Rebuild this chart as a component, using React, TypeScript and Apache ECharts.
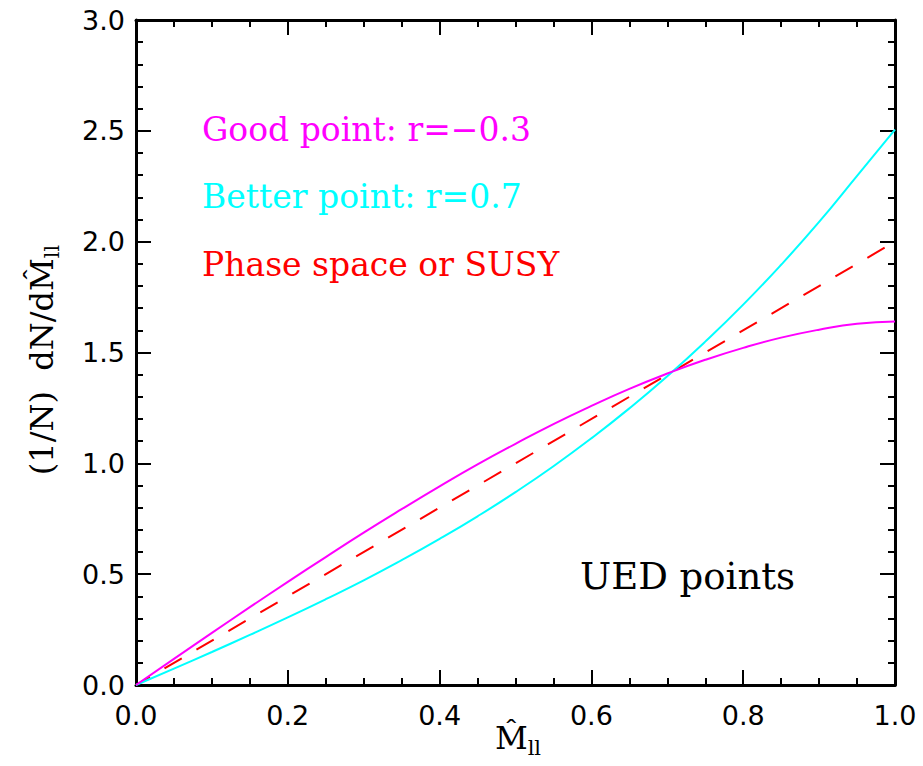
import React, { useEffect, useRef } from "react";
import * as echarts from "echarts";

const xValues = [0, 0.05, 0.1, 0.15, 0.2, 0.25, 0.3, 0.35, 0.4, 0.45, 0.5, 0.55, 0.6, 0.65, 0.7, 0.75, 0.8, 0.85, 0.9, 0.95, 1.0];
const goodPoint = [0, 0.118, 0.235, 0.351, 0.465, 0.577, 0.687, 0.793, 0.896, 0.995, 1.088, 1.177, 1.259, 1.336, 1.405, 1.467, 1.521, 1.567, 1.603, 1.630, 1.640];
const betterPoint = [0, 0.074, 0.149, 0.226, 0.305, 0.387, 0.472, 0.563, 0.659, 0.761, 0.870, 0.987, 1.113, 1.248, 1.393, 1.549, 1.716, 1.896, 2.089, 2.297, 2.505];
const phaseX = [0, 0.5, 1.0];
const phaseSpace = [0, 1.0, 2.0];
const legendLabels = ["Good point: r=\u22120.3", "Better point: r=0.7", "Phase space or SUSY"];
const annotation = "UED points";

const serif = "DejaVu Serif";
const sans = "DejaVu Sans";

export default function App() {
  const ref = useRef<HTMLDivElement>(null);
  useEffect(() => {
    if (!ref.current) return;
    const chart = echarts.init(ref.current, null, { renderer: "svg" });
    const axisLine = { show: true, onZero: false, lineStyle: { color: "#000", width: 3 } };
    const majorTick = { show: true, inside: true, length: 15, lineStyle: { color: "#000", width: 2 } };
    const minorTick = { show: true, length: 7, lineStyle: { color: "#000", width: 2 } };
    const xBase = { type: "value", min: 0, max: 1, interval: 0.2, splitLine: { show: false }, minorSplitLine: { show: false } };
    const yBase = { type: "value", min: 0, max: 3, interval: 0.5, splitLine: { show: false }, minorSplitLine: { show: false } };
    chart.setOption({
      animation: false,
      backgroundColor: "#fff",
      grid: { left: 136, right: 28, top: 20, bottom: 81 },
      xAxis: [
        {
          ...xBase,
          position: "bottom",
          axisLine,
          axisTick: majorTick,
          minorTick: { ...minorTick, splitNumber: 4 },
          axisLabel: { fontFamily: sans, fontSize: 27, color: "#000", margin: 17, formatter: (v: number) => v.toFixed(1) },
        },
        {
          ...xBase,
          position: "top",
          axisLine,
          axisTick: majorTick,
          minorTick: { ...minorTick, splitNumber: 4 },
          axisLabel: { show: false },
        },
      ],
      yAxis: [
        {
          ...yBase,
          position: "left",
          axisLine,
          axisTick: majorTick,
          minorTick: { ...minorTick, splitNumber: 5 },
          axisLabel: { fontFamily: sans, fontSize: 27, color: "#000", margin: 11, formatter: (v: number) => v.toFixed(1) },
        },
        {
          ...yBase,
          position: "right",
          axisLine,
          axisTick: majorTick,
          minorTick: { ...minorTick, splitNumber: 5 },
          axisLabel: { show: false },
        },
      ],
      series: [
        {
          type: "line",
          data: phaseX.map((x, i) => [x, phaseSpace[i]]),
          showSymbol: false,
          lineStyle: { color: "#ff0000", width: 2, type: [20, 17], dashOffset: 4 },
          z: 3,
        },
        {
          type: "line",
          data: xValues.map((x, i) => [x, betterPoint[i]]),
          showSymbol: false,
          smooth: true,
          lineStyle: { color: "#00ffff", width: 2 },
          z: 4,
        },
        {
          type: "line",
          data: xValues.map((x, i) => [x, goodPoint[i]]),
          showSymbol: false,
          smooth: true,
          lineStyle: { color: "#ff00ff", width: 2 },
          z: 5,
        },
      ],
      graphic: [
        { type: "text", left: 202, top: 113, style: { text: legendLabels[0], fill: "#ff00ff", font: `33px "${serif}"` } },
        { type: "text", left: 202, top: 180, style: { text: legendLabels[1], fill: "#00ffff", font: `33px "${serif}"` } },
        { type: "text", left: 202, top: 248, style: { text: legendLabels[2], fill: "#ff0000", font: `33px "${serif}"` } },
        { type: "text", left: 580, top: 558, style: { text: annotation, fill: "#000", font: `37px "${serif}"` } },
        {
          type: "text",
          x: 518,
          y: 738,
          style: {
            text: "{m|M\u0302}{s|ll}",
            align: "center",
            verticalAlign: "middle",
            rich: {
              m: { fontFamily: serif, fontSize: 32, fill: "#000", lineHeight: 40 },
              s: { fontFamily: serif, fontSize: 21, fill: "#000", verticalAlign: "bottom", lineHeight: 22 },
            },
          },
        },
        {
          type: "text",
          x: 42,
          y: 360,
          rotation: Math.PI / 2,
          style: {
            text: "{m|(1/N)  dN/dM\u0302}{s|ll}",
            align: "center",
            verticalAlign: "middle",
            rich: {
              m: { fontFamily: serif, fontSize: 32, fill: "#000", lineHeight: 40 },
              s: { fontFamily: serif, fontSize: 21, fill: "#000", verticalAlign: "bottom", lineHeight: 22 },
            },
          },
        },
      ],
    });
    return () => chart.dispose();
  }, []);
  return <div ref={ref} style={{ width: 923, height: 766, position: "absolute", left: 0, top: 0 }} />;
}
